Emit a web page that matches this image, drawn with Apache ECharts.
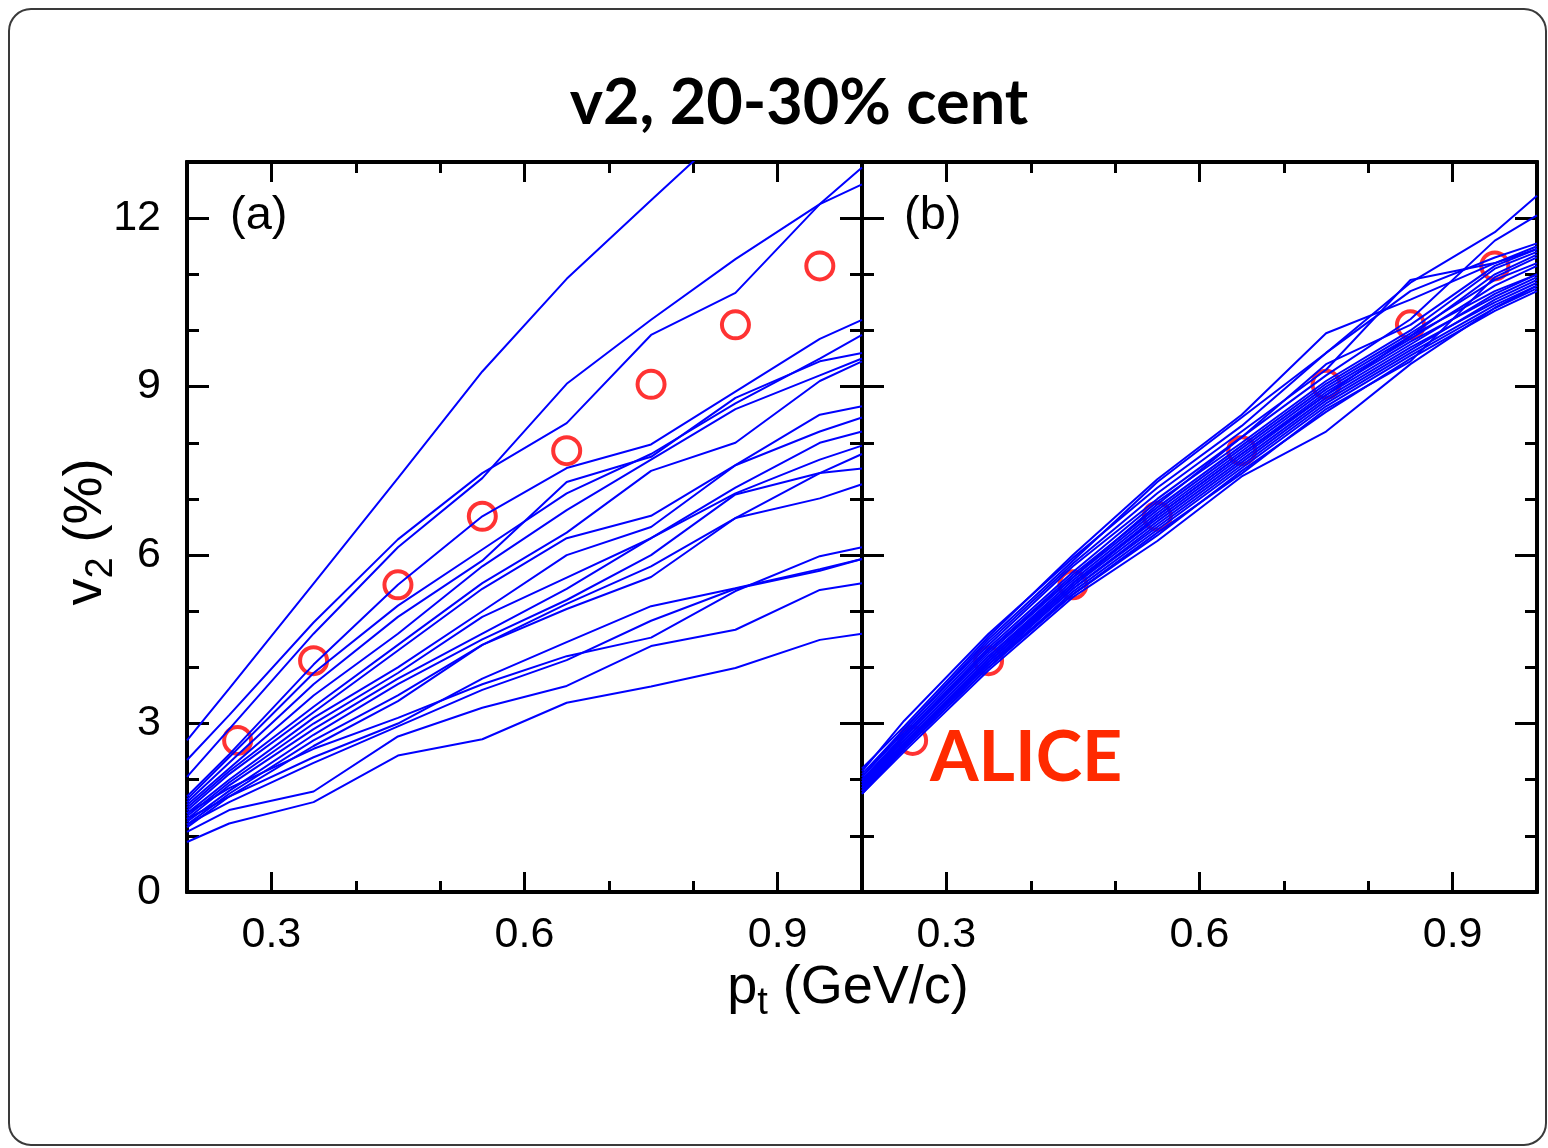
<!DOCTYPE html>
<html>
<head>
<meta charset="utf-8">
<script src="https://cdn.jsdelivr.net/npm/echarts@6/dist/echarts.min.js"></script>
<style>
  html, body { margin: 0; padding: 0; background: #fff; }
  #chart { width: 1548px; height: 1148px; }
</style>
</head>
<body>
<div id="chart"></div>
<script>
// Transverse momentum bins (GeV/c) at which each model curve is evaluated
const ptBins = [0.2, 0.25, 0.35, 0.45, 0.55, 0.65, 0.75, 0.85, 0.95, 1.0];

// ALICE measurement, v2 in %
const alicePt = [0.26, 0.35, 0.45, 0.55, 0.65, 0.75, 0.85, 0.95];
const aliceV2 = [2.70, 4.12, 5.47, 6.69, 7.86, 9.04, 10.10, 11.15];

// (a) model curves before tuning, v2 in % at ptBins
const curvesA = [
  [2.70, 3.62, 5.49, 7.37, 9.27, 10.92, 12.32, 13.70, 15.00, 15.60],
  [2.35, 3.15, 4.80, 6.28, 7.46, 8.35, 9.92, 10.67, 12.25, 12.90],
  [2.05, 2.90, 4.60, 6.14, 7.37, 9.05, 10.19, 11.27, 12.25, 12.60],
  [1.70, 2.45, 4.05, 5.47, 6.69, 7.55, 7.97, 8.91, 9.85, 10.19],
  [1.65, 2.40, 3.90, 5.10, 6.10, 7.10, 7.80, 8.70, 9.50, 9.92],
  [1.60, 2.30, 3.70, 4.90, 5.90, 7.30, 7.75, 8.80, 9.45, 9.60],
  [1.55, 2.20, 3.50, 4.60, 5.80, 6.80, 7.70, 8.60, 9.20, 9.50],
  [1.50, 2.15, 3.30, 4.40, 5.50, 6.40, 7.50, 8.00, 9.10, 9.45],
  [1.45, 2.10, 3.20, 4.30, 5.40, 6.30, 6.70, 7.60, 8.50, 8.65],
  [1.40, 2.00, 3.10, 4.00, 5.00, 6.00, 6.50, 7.60, 8.20, 8.45],
  [1.35, 1.95, 3.00, 3.90, 4.90, 5.60, 6.30, 7.20, 8.00, 8.20],
  [1.30, 1.90, 2.90, 3.80, 4.60, 5.40, 6.30, 7.10, 7.70, 7.95],
  [1.25, 1.80, 2.80, 3.70, 4.50, 5.20, 6.00, 7.08, 7.46, 7.80],
  [1.20, 1.75, 2.70, 3.50, 4.40, 5.13, 5.80, 6.66, 7.46, 7.54],
  [1.15, 1.70, 2.60, 3.40, 4.40, 5.04, 5.61, 6.66, 7.01, 7.26],
  [1.40, 1.85, 2.55, 3.10, 3.70, 4.20, 4.53, 5.36, 5.98, 6.14],
  [1.30, 1.70, 2.40, 3.00, 3.80, 4.45, 5.09, 5.41, 5.75, 5.93],
  [1.20, 1.60, 2.30, 2.95, 3.60, 4.13, 4.83, 5.40, 5.72, 5.93],
  [1.07, 1.46, 1.79, 2.77, 3.28, 3.67, 4.38, 4.67, 5.38, 5.50],
  [0.89, 1.22, 1.60, 2.43, 2.72, 3.37, 3.66, 3.99, 4.49, 4.60]
];

// (b) model curves after tuning, v2 in % at ptBins
const curvesB = [
  [2.20, 2.95, 4.55, 6.00, 7.35, 8.50, 9.95, 10.55, 11.20, 11.50],
  [2.15, 3.05, 4.60, 5.95, 7.20, 8.30, 9.60, 10.85, 11.75, 12.40],
  [2.10, 2.90, 4.45, 5.85, 7.10, 8.20, 9.30, 10.90, 11.20, 11.45],
  [2.05, 2.85, 4.40, 5.80, 7.00, 8.10, 9.20, 10.20, 11.60, 12.05],
  [2.00, 2.80, 4.35, 5.70, 6.95, 8.00, 9.10, 10.00, 11.10, 11.40],
  [2.00, 2.75, 4.30, 5.65, 6.85, 7.95, 9.05, 9.95, 10.90, 11.20],
  [1.95, 2.75, 4.25, 5.60, 6.80, 7.90, 9.00, 9.90, 10.70, 11.00],
  [1.95, 2.70, 4.20, 5.55, 6.75, 7.85, 8.95, 9.85, 10.80, 11.15],
  [1.90, 2.70, 4.20, 5.50, 6.70, 7.80, 8.90, 9.80, 10.60, 10.95],
  [1.90, 2.65, 4.15, 5.50, 6.65, 7.75, 8.85, 9.75, 10.65, 11.00],
  [1.85, 2.65, 4.10, 5.45, 6.60, 7.70, 8.80, 9.70, 10.50, 10.85],
  [1.85, 2.60, 4.10, 5.40, 6.55, 7.65, 8.75, 9.65, 10.55, 10.90],
  [1.80, 2.60, 4.05, 5.40, 6.50, 7.60, 8.70, 9.60, 10.45, 10.80],
  [1.80, 2.55, 4.00, 5.35, 6.45, 7.55, 8.65, 9.55, 10.40, 10.75],
  [1.75, 2.55, 4.00, 5.30, 6.35, 7.50, 8.55, 9.50, 10.35, 10.70],
  [1.75, 2.50, 3.95, 5.25, 6.25, 7.40, 8.20, 9.40, 10.40, 10.80],
  [2.05, 2.90, 4.50, 5.90, 7.30, 8.45, 9.60, 10.70, 11.30, 11.55],
  [1.95, 2.80, 4.30, 5.60, 6.90, 8.10, 9.40, 10.10, 11.15, 11.45],
  [1.85, 2.65, 4.15, 5.45, 6.70, 7.80, 8.85, 9.90, 11.00, 11.35],
  [1.80, 2.60, 4.05, 5.30, 6.40, 7.45, 8.60, 9.45, 10.95, 11.30]
];

// Tick positions
const xMajorTicks = [0.3, 0.6, 0.9];
const xMinorTicks = [0.4, 0.5, 0.7, 0.8];
const yMajorTicks = [0, 3, 6, 9, 12];
const yMinorTicks = [1, 2, 4, 5, 7, 8, 10, 11];

const X_RANGE = [0.2, 1.0];
const Y_RANGE = [0, 13];
const LABEL_FONT = '"Liberation Sans", Arial, Helvetica, sans-serif';
const TITLE_FONT = 'Lato, "Open Sans", sans-serif';

function makeAxis(gridIndex, position, ticks, tickLen, showLabels, range, margin, fmt) {
  return {
    type: 'value',
    gridIndex: gridIndex,
    position: position,
    min: range[0],
    max: range[1],
    axisLine: { show: true, onZero: false, lineStyle: { color: '#000', width: 4 } },
    splitLine: { show: false },
    axisTick: {
      show: true, inside: true, length: tickLen, customValues: ticks,
      lineStyle: { color: '#000', width: 3 }
    },
    axisLabel: {
      show: showLabels, customValues: ticks, margin: margin,
      color: '#000', fontSize: 43, fontFamily: LABEL_FONT,
      formatter: fmt
    }
  };
}

const fmtX = v => Number(v).toFixed(1);
const fmtY = v => String(Math.round(v));

const xAxes = [];
const yAxes = [];
[0, 1].forEach(g => {
  xAxes.push(makeAxis(g, 'bottom', xMajorTicks, 20, true, X_RANGE, 22, fmtX));
  xAxes.push(makeAxis(g, 'bottom', xMinorTicks, 11, false, X_RANGE, 22, fmtX));
  xAxes.push(makeAxis(g, 'top', xMajorTicks, 20, false, X_RANGE, 22, fmtX));
  xAxes.push(makeAxis(g, 'top', xMinorTicks, 11, false, X_RANGE, 22, fmtX));
  yAxes.push(makeAxis(g, 'left', yMajorTicks, 22, g === 0, Y_RANGE, 26, fmtY));
  yAxes.push(makeAxis(g, 'left', yMinorTicks, 12, false, Y_RANGE, 26, fmtY));
  yAxes.push(makeAxis(g, 'right', yMajorTicks, 22, false, Y_RANGE, 26, fmtY));
  yAxes.push(makeAxis(g, 'right', yMinorTicks, 12, false, Y_RANGE, 26, fmtY));
});

const series = [];
[0, 1].forEach(g => {
  series.push({
    type: 'scatter',
    xAxisIndex: g * 4, yAxisIndex: g * 4,
    symbol: 'circle', symbolSize: 27,
    itemStyle: { color: 'rgba(255,255,255,0)', borderColor: '#ff0000', borderWidth: 4 },
    data: alicePt.map((x, i) => [x, aliceV2[i]]),
    silent: true
  });
  const curves = g === 0 ? curvesA : curvesB;
  curves.forEach(c => {
    series.push({
      type: 'line',
      xAxisIndex: g * 4, yAxisIndex: g * 4,
      showSymbol: false, symbol: 'none',
      clip: true,
      lineStyle: { color: '#0000ff', width: 2 },
      data: ptBins.map((x, i) => [x, c[i]]),
      silent: true
    });
  });
});

const option = {
  animation: false,
  backgroundColor: '#fff',
  grid: [
    { left: 187, top: 162, width: 675, height: 730 },
    { left: 862, top: 162, width: 675, height: 730 }
  ],
  xAxis: xAxes,
  yAxis: yAxes,
  series: series,
  graphic: [
    {
      type: 'rect', silent: true, z: -1,
      shape: { x: 9, y: 9, width: 1537, height: 1136, r: 22 },
      style: { fill: 'none', stroke: '#3a3a3a', lineWidth: 2 }
    },
    {
      type: 'text', x: 799, y: 104,
      style: {
        text: 'v2, 20-30% cent', fill: '#000',
        font: 'bold 63px ' + TITLE_FONT,
        textAlign: 'center', textVerticalAlign: 'middle'
      }
    },
    {
      type: 'text', x: 230, y: 216,
      style: {
        text: '(a)', fill: '#000', font: '47px ' + LABEL_FONT,
        textAlign: 'left', textVerticalAlign: 'middle'
      }
    },
    {
      type: 'text', x: 904, y: 216,
      style: {
        text: '(b)', fill: '#000', font: '47px ' + LABEL_FONT,
        textAlign: 'left', textVerticalAlign: 'middle'
      }
    },
    {
      type: 'text', x: 930, y: 758,
      style: {
        text: 'ALICE', fill: '#ff2a00', font: 'bold 70px ' + TITLE_FONT,
        textAlign: 'left', textVerticalAlign: 'middle'
      }
    },
    {
      type: 'text', x: 848, y: 988,
      style: {
        text: '{m|p}{s|t}{m| (GeV/c)}',
        textAlign: 'center', textVerticalAlign: 'middle',
        rich: {
          m: { fontSize: 54, fontFamily: LABEL_FONT, color: '#000', lineHeight: 70, verticalAlign: 'middle' },
          s: { fontSize: 38, fontFamily: LABEL_FONT, color: '#000', lineHeight: 24, verticalAlign: 'bottom' }
        }
      }
    },
    {
      type: 'text', x: 86, y: 532, rotation: Math.PI / 2,
      style: {
        text: '{m|v}{s|2}{m| (%)}',
        textAlign: 'center', textVerticalAlign: 'middle',
        rich: {
          m: { fontSize: 54, fontFamily: LABEL_FONT, color: '#000', lineHeight: 70, verticalAlign: 'middle' },
          s: { fontSize: 38, fontFamily: LABEL_FONT, color: '#000', lineHeight: 24, verticalAlign: 'bottom' }
        }
      }
    }
  ]
};

const chart = echarts.init(document.getElementById('chart'), null, { renderer: 'canvas' });
chart.setOption(option);
</script>
</body>
</html>
